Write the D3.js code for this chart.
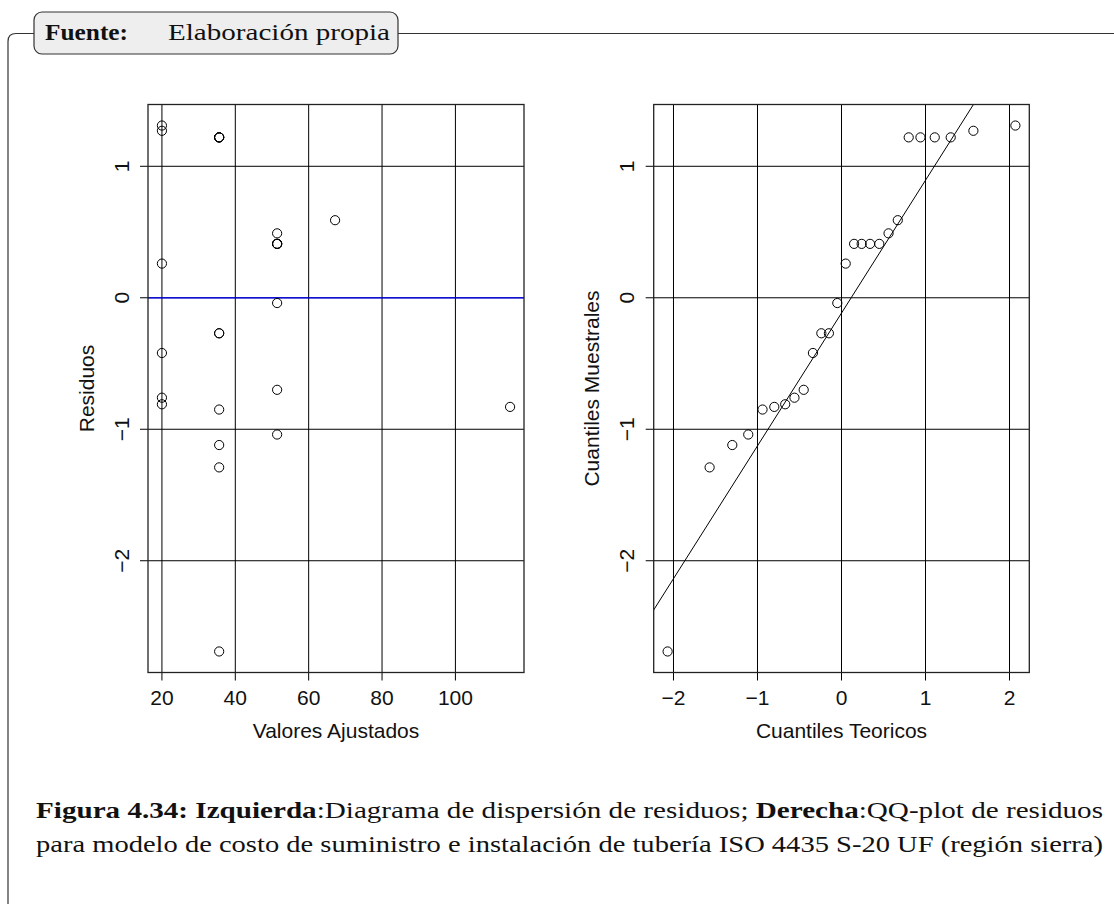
<!DOCTYPE html>
<html><head><meta charset="utf-8">
<script src="https://cdn.jsdelivr.net/npm/d3@7"></script>
<style>body{margin:0;background:#fff} svg{display:block}</style>
</head><body>
<script>
// Fitted values and residuals of the cost model (26 observations)
const fitted = [20.0, 20.0, 20.0, 20.0, 20.0, 20.0,
  35.6, 35.6, 35.6, 35.6, 35.6, 35.6, 35.6, 35.6, 35.6, 35.6,
  51.4, 51.4, 51.4, 51.4, 51.4, 51.4, 51.4, 51.4,
  67.2, 114.9];
const residuals = [1.31, 1.27, 0.26, -0.42, -0.76, -0.81,
  1.22, 1.22, 1.22, 1.22, -0.27, -0.27, -0.85, -1.12, -1.29, -2.69,
  0.49, 0.41, 0.41, 0.41, 0.41, -0.04, -0.70, -1.04,
  0.59, -0.83];
// Theoretical normal quantiles for the 26 ordered residuals
const theoretical = [-2.07, -1.57, -1.30, -1.11, -0.94, -0.80, -0.67, -0.56, -0.45, -0.34, -0.24, -0.15, -0.05,
  0.05, 0.15, 0.24, 0.34, 0.45, 0.56, 0.67, 0.80, 0.94, 1.11, 1.30, 1.57, 2.07];
const fittedTicks = [20, 40, 60, 80, 100];
const residTicks = [-2, -1, 0, 1];
const theoTicks = [-2, -1, 0, 1, 2];
const zQ3 = 0.6745; // upper quartile of the standard normal

const W = 1114, H = 904;
const svg = d3.select("body").append("svg").attr("width", W).attr("height", H);
const sans = "'Liberation Sans', Arial, Helvetica, sans-serif";
const serif = "'Liberation Serif', 'Times New Roman', serif";

// ---- framed box header ----
svg.append("path")
  .attr("d", "M34,33.5 H16 Q8,33.5 8,41.5 V904 M398,33.5 H1114")
  .attr("fill", "none").attr("stroke", "#333").attr("stroke-width", 1.2);
svg.append("rect").attr("x", 34).attr("y", 12).attr("width", 364).attr("height", 42)
  .attr("rx", 8).attr("fill", "#eeeeee").attr("stroke", "#333").attr("stroke-width", 1.2);
svg.append("text").attr("x", 45).attr("y", 40).attr("font-family", serif).attr("font-size", 23)
  .attr("font-weight", "bold").attr("textLength", 83).attr("lengthAdjust", "spacingAndGlyphs")
  .attr("fill", "#111").text("Fuente:");
svg.append("text").attr("x", 168).attr("y", 40).attr("font-family", serif).attr("font-size", 23)
  .attr("textLength", 222).attr("lengthAdjust", "spacingAndGlyphs")
  .attr("fill", "#111").text("Elaboración propia");

// R-style axis range: data extent widened by 4% on each side
const pad = ext => { const d = (ext[1] - ext[0]) * 0.04; return [ext[0] - d, ext[1] + d]; };

const yTop = 104.5, yBot = 672.5, tickLen = 8;

function panel(id, x0, x1, xVals, yVals, xTicks, yTicks, xTitle, yTitle) {
  const x = d3.scaleLinear().domain(pad(d3.extent(xVals))).range([x0, x1]);
  const y = d3.scaleLinear().domain(pad(d3.extent(yVals))).range([yBot, yTop]);
  const g = svg.append("g");
  g.append("clipPath").attr("id", id).append("rect")
    .attr("x", x0).attr("y", yTop).attr("width", x1 - x0).attr("height", yBot - yTop);

  // grid lines continuing out as tick marks
  g.selectAll(".gx").data(xTicks).join("line")
    .attr("x1", d => x(d)).attr("x2", d => x(d)).attr("y1", yTop).attr("y2", yBot + tickLen)
    .attr("stroke", "#000").attr("stroke-width", 1);
  g.selectAll(".gy").data(yTicks).join("line")
    .attr("x1", x0 - tickLen).attr("x2", x1).attr("y1", d => y(d)).attr("y2", d => y(d))
    .attr("stroke", "#000").attr("stroke-width", 1);

  // tick labels
  g.selectAll(".lx").data(xTicks).join("text")
    .attr("x", d => x(d)).attr("y", 705).attr("text-anchor", "middle")
    .attr("font-family", sans).attr("font-size", 21).attr("fill", "#111")
    .text(d => d < 0 ? "\u2212" + Math.abs(d) : d);
  g.selectAll(".ly").data(yTicks).join("text")
    .attr("transform", d => `translate(${x0 - 19.5},${y(d)}) rotate(-90)`)
    .attr("text-anchor", "middle")
    .attr("font-family", sans).attr("font-size", 21).attr("fill", "#111")
    .text(d => d < 0 ? "\u2212" + Math.abs(d) : d);

  // axis titles
  g.append("text").attr("x", (x0 + x1) / 2).attr("y", 738).attr("text-anchor", "middle")
    .attr("font-family", sans).attr("font-size", 21).attr("fill", "#111").text(xTitle);
  g.append("text").attr("transform", `translate(${x0 - 54.5},${(yTop + yBot) / 2}) rotate(-90)`)
    .attr("text-anchor", "middle")
    .attr("font-family", sans).attr("font-size", 21).attr("fill", "#111").text(yTitle);

  return { g, x, y, x0, x1 };
}

function frame(p) {
  p.g.append("rect").attr("x", p.x0).attr("y", yTop).attr("width", p.x1 - p.x0).attr("height", yBot - yTop)
    .attr("fill", "none").attr("stroke", "#222").attr("stroke-width", 1.3);
}

function points(p, xs, ys) {
  p.g.append("g").selectAll("circle").data(d3.range(xs.length)).join("circle")
    .attr("cx", i => p.x(xs[i])).attr("cy", i => p.y(ys[i])).attr("r", 4.6)
    .attr("fill", "none").attr("stroke", "#000").attr("stroke-width", 1);
}

// ---- left: residuals vs fitted values ----
const left = panel("clipL", 148, 524, fitted, residuals, fittedTicks, residTicks, "Valores Ajustados", "Residuos");
left.g.append("line").attr("clip-path", "url(#clipL)")
  .attr("x1", left.x0).attr("x2", left.x1).attr("y1", left.y(0)).attr("y2", left.y(0))
  .attr("stroke", "#0000ff").attr("stroke-width", 1.2);
points(left, fitted, residuals);
frame(left);

// ---- right: normal QQ plot of residuals ----
const sample = d3.sort(residuals);
const right = panel("clipR", 653.7, 1029.3, theoretical, sample, theoTicks, residTicks, "Cuantiles Teoricos", "Cuantiles Muestrales");
// reference line through the quartiles
const q1 = d3.quantile(sample, 0.25), q3 = d3.quantile(sample, 0.75);
const slope = (q3 - q1) / (2 * zQ3);
const intercept = q1 + slope * zQ3;
const [dx0, dx1] = right.x.domain();
right.g.append("line").attr("clip-path", "url(#clipR)")
  .attr("x1", right.x(dx0)).attr("y1", right.y(intercept + slope * dx0))
  .attr("x2", right.x(dx1)).attr("y2", right.y(intercept + slope * dx1))
  .attr("stroke", "#000").attr("stroke-width", 1);
points(right, theoretical, sample);
frame(right);

// ---- caption ----
const cap1 = svg.append("text").attr("x", 36).attr("y", 818).attr("font-family", serif).attr("font-size", 23)
  .attr("fill", "#111").attr("textLength", 1067).attr("lengthAdjust", "spacingAndGlyphs");
cap1.append("tspan").attr("font-weight", "bold").text("Figura 4.34: Izquierda");
cap1.append("tspan").text(":Diagrama de dispersión de residuos; ");
cap1.append("tspan").attr("font-weight", "bold").text("Derecha");
cap1.append("tspan").text(":QQ-plot de residuos");
svg.append("text").attr("x", 36).attr("y", 852).attr("font-family", serif).attr("font-size", 23)
  .attr("fill", "#111").attr("textLength", 1067).attr("lengthAdjust", "spacingAndGlyphs")
  .text("para modelo de costo de suministro e instalación de tubería ISO 4435 S-20 UF (región sierra)");
</script>
</body></html>
